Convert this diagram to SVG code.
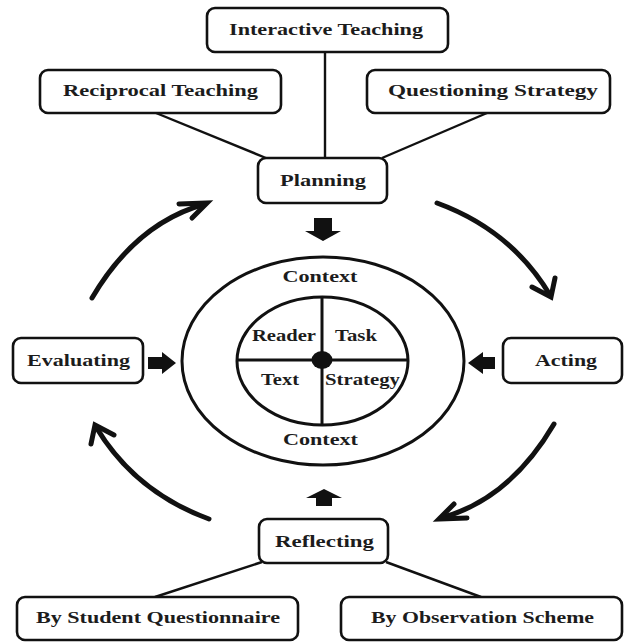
<svg xmlns="http://www.w3.org/2000/svg" width="624" height="642" viewBox="0 0 624 642">
<style>
.box{fill:#fff;stroke:#111;stroke-width:2.6}
.t{font-family:"Liberation Serif","Times New Roman",serif;font-weight:bold;font-size:17px;fill:#1c1c1c;text-anchor:middle}
.ln{stroke:#111;stroke-width:2.4;fill:none}
.cv{stroke:#111;stroke-width:5;fill:none;stroke-linecap:round}
.hd{stroke:#111;stroke-width:5;fill:none;stroke-linecap:round;stroke-linejoin:miter}
.blk{fill:#111}
.el{fill:none;stroke:#111;stroke-width:3}
</style>
<rect width="624" height="642" fill="#fff"/>
<g id="connectors">
<line class="ln" x1="325" y1="52" x2="325" y2="158"/>
<line class="ln" x1="156" y1="113" x2="266" y2="158"/>
<line class="ln" x1="487" y1="113" x2="382" y2="158"/>
<line class="ln" x1="262" y1="562" x2="155" y2="597"/>
<line class="ln" x1="386" y1="562" x2="481" y2="597"/>
<path class="cv" d="M92,298 Q136,223 205,204"/>
<path class="hd" d="M179,204 L207,203 L192,218"/>
<path class="cv" d="M437,203 Q511,230 550,295"/>
<path class="hd" d="M532,287 L551,297 L555,278"/>
<path class="cv" d="M554,424 Q510,499 441,518"/>
<path class="hd" d="M467,518 L439,519 L454,504"/>
<path class="cv" d="M209,519 Q135,492 96,427"/>
<path class="hd" d="M114,435 L95,425 L91,444"/>
<polygon class="blk" points="314,218 332,218 332,231 341,231 323,241 305,231 314,231"/>
<polygon class="blk" points="324,489 342,498 332,498 332,506 316,506 316,498 306,498"/>
<polygon class="blk" points="148,357 162,357 162,352 176,363 162,374 162,369 148,369"/>
<polygon class="blk" points="468,363 483,352 483,357 495,357 495,369 483,369 483,374"/>
</g>
<g id="interactive"><rect class="box" x="207" y="8" width="241" height="44" rx="8"/><text class="t" x="326" y="35" textLength="194" lengthAdjust="spacingAndGlyphs">Interactive Teaching</text></g>
<g id="reciprocal"><rect class="box" x="40" y="70" width="241" height="43" rx="8"/><text class="t" x="160.5" y="96" textLength="195" lengthAdjust="spacingAndGlyphs">Reciprocal Teaching</text></g>
<g id="questioning"><rect class="box" x="367" y="70" width="243" height="43" rx="8"/><text class="t" x="493" y="96" textLength="210" lengthAdjust="spacingAndGlyphs">Questioning Strategy</text></g>
<g id="planning"><rect class="box" x="258" y="158" width="129" height="45" rx="8"/><text class="t" x="323" y="186" textLength="86" lengthAdjust="spacingAndGlyphs">Planning</text></g>
<g id="evaluating"><rect class="box" x="13" y="338" width="130" height="45" rx="8"/><text class="t" x="78.5" y="366" textLength="103" lengthAdjust="spacingAndGlyphs">Evaluating</text></g>
<g id="acting"><rect class="box" x="503" y="338" width="119" height="45" rx="8"/><text class="t" x="566" y="366" textLength="62" lengthAdjust="spacingAndGlyphs">Acting</text></g>
<g id="reflecting"><rect class="box" x="259" y="519" width="129" height="44" rx="8"/><text class="t" x="324.5" y="547" textLength="99" lengthAdjust="spacingAndGlyphs">Reflecting</text></g>
<g id="questionnaire"><rect class="box" x="17" y="597" width="281" height="43" rx="8"/><text class="t" x="158" y="623" textLength="244" lengthAdjust="spacingAndGlyphs">By Student Questionnaire</text></g>
<g id="observation"><rect class="box" x="341" y="597" width="281" height="43" rx="8"/><text class="t" x="482.5" y="623" textLength="223" lengthAdjust="spacingAndGlyphs">By Observation Scheme</text></g>
<g id="model">
<ellipse class="el" cx="323" cy="361" rx="141" ry="104"/>
<ellipse class="el" cx="322.5" cy="361" rx="85.5" ry="64"/>
<line class="el" x1="322" y1="297" x2="322" y2="425"/>
<line class="el" x1="237" y1="360" x2="408" y2="360"/>
<ellipse class="blk" cx="322" cy="360" rx="10.5" ry="9"/>
<text class="t" x="320" y="282" textLength="75" lengthAdjust="spacingAndGlyphs">Context</text>
<text class="t" x="320.5" y="445" textLength="75" lengthAdjust="spacingAndGlyphs">Context</text>
<text class="t" x="284" y="341" textLength="64" lengthAdjust="spacingAndGlyphs">Reader</text>
<text class="t" x="356" y="341" textLength="42" lengthAdjust="spacingAndGlyphs">Task</text>
<text class="t" x="280" y="385" textLength="38" lengthAdjust="spacingAndGlyphs">Text</text>
<text class="t" x="362.5" y="385" textLength="75" lengthAdjust="spacingAndGlyphs">Strategy</text>
</g>
</svg>
